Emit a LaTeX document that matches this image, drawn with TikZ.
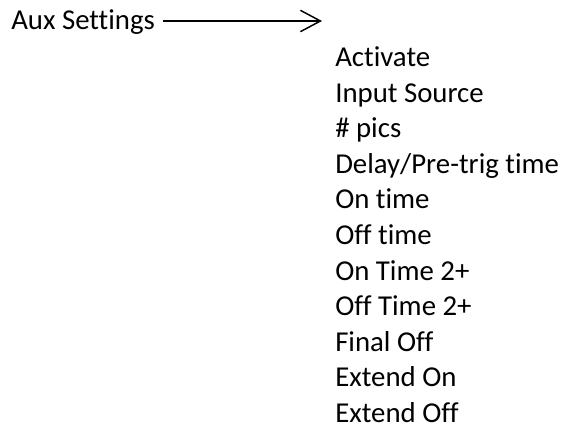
\documentclass[tikz,border=0pt]{standalone}
\usepackage{fontspec}
\setmainfont[Ligatures=NoCommon]{Carlito}
\usetikzlibrary{arrows.meta}

\begin{document}
\begin{tikzpicture}[x=0.75pt,y=-0.75pt,
    lbl/.style={anchor=base west,inner sep=0pt,font=\fontsize{21.6}{26}\selectfont}]
      \useasboundingbox (0,0) rectangle (568,427);
      \node[lbl] (aux) at (11,30) {Aux Settings};
      \coordinate (tip) at (322,21);
      \draw[line width=1.1pt,-{Straight Barb[length=15pt,width=16pt,line width=1.1pt]}] ([xshift=6pt]aux.east |- tip) -- (tip);
      \foreach \name [count=\i from 0] in {Activate,Input Source,\# pics,Delay/Pre-trig time,On time,Off time,On Time 2+,Off Time 2+,Final Off,Extend On,Extend Off}
        \node[lbl] (item\i) at (335,66.6+35.6*\i) {\name};
\end{tikzpicture}
\end{document}
